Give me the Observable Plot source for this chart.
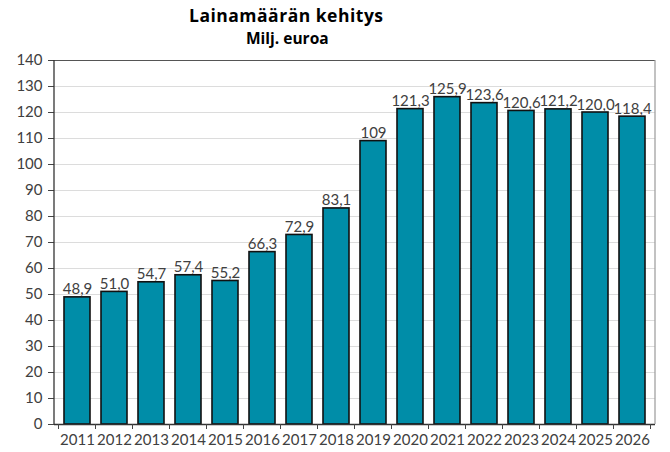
<!DOCTYPE html>
<html>
<head>
<meta charset="utf-8">
<script src="https://cdn.jsdelivr.net/npm/d3@7"></script>
<script src="https://cdn.jsdelivr.net/npm/@observablehq/plot@0.6"></script>
<style>
  body { margin: 0; background: #fff; }
  #wrap { position: relative; width: 670px; height: 452px; }
  .t { position: absolute; font-family: "Open Sans", sans-serif; font-weight: bold; color: #000; white-space: nowrap; line-height: 1; }
  #title { left: 189px; top: 7px; font-size: 17.5px; letter-spacing: 0.5px; }
  #subtitle { left: 246px; top: 31px; font-size: 15.5px; }
  #chart { position: absolute; left: 0; top: 0; }
</style>
</head>
<body>
<div id="wrap">
  <div id="chart"></div>
  <div class="t" id="title">Lainamäärän kehitys</div>
  <div class="t" id="subtitle">Milj. euroa</div>
</div>
<script>
const years = ["2011","2012","2013","2014","2015","2016","2017","2018","2019","2020","2021","2022","2023","2024","2025","2026"];
const values = [48.9, 51.0, 54.7, 57.4, 55.2, 66.3, 72.9, 83.1, 109, 121.3, 125.9, 123.6, 120.6, 121.2, 120.0, 118.4];
const labels = ["48,9","51,0","54,7","57,4","55,2","66,3","72,9","83,1","109","121,3","125,9","123,6","120,6","121,2","120,0","118,4"];
const yTicks = [0,10,20,30,40,50,60,70,80,90,100,110,120,130,140];

const data = years.map((y, i) => ({year: y, value: values[i], label: labels[i]}));

const textColor = "#404040";
const plot = Plot.plot({
  width: 670,
  height: 452,
  marginTop: 60,
  marginLeft: 54,
  marginRight: 15,
  marginBottom: 28,
  style: {fontFamily: "Lato, sans-serif", background: "transparent"},
  x: {type: "band", domain: years, paddingInner: 0.295, paddingOuter: 0.1475, label: null},
  y: {domain: [0, 140], label: null},
  marks: [
    Plot.gridY(yTicks, {stroke: "#dcdcdc", strokeOpacity: 1}),
    Plot.ruleY([140], {stroke: "#555", strokeWidth: 1.2}),
    Plot.barY(data, {x: "year", y: "value", fill: "#008DA8", stroke: "#111", strokeWidth: 1.6}),
    Plot.text(data, {x: "year", y: "value", text: "label", lineAnchor: "bottom", dy: -3, fill: textColor, fontSize: 15}),
    Plot.axisY(yTicks, {tickSize: 6, tickPadding: 6, fontSize: 15, color: textColor, stroke: "#444", label: null}),
    Plot.axisX({tickSize: 0, tickPadding: 10, fontSize: 15, color: textColor, label: null}),
    Plot.ruleY([0], {stroke: "#333", strokeWidth: 1.3})
  ]
});

document.getElementById("chart").appendChild(plot);

// frame lines and category-boundary ticks from the plot's own scales
const xs = plot.scale("x");
const ys = plot.scale("y");
const svg = d3.select(plot);
const gap = xs.step - xs.bandwidth;
const bounds = years.map(y => xs.apply(y) - gap / 2);
bounds.push(xs.apply(years[years.length - 1]) + xs.bandwidth + gap / 2);
const y0 = ys.apply(0), yTop = ys.apply(140);
const g = svg.append("g");
g.selectAll("line.tk").data(bounds).join("line")
  .attr("x1", d => d).attr("x2", d => d)
  .attr("y1", y0).attr("y2", y0 + 5)
  .attr("stroke", "#444").attr("stroke-width", 1);
g.append("line").attr("x1", xs.range[0]).attr("x2", xs.range[0]).attr("y1", yTop).attr("y2", y0)
  .attr("stroke", "#333").attr("stroke-width", 1.3);
g.append("line").attr("x1", xs.range[1]).attr("x2", xs.range[1]).attr("y1", yTop).attr("y2", y0)
  .attr("stroke", "#999").attr("stroke-width", 1.2);
</script>
</body>
</html>
